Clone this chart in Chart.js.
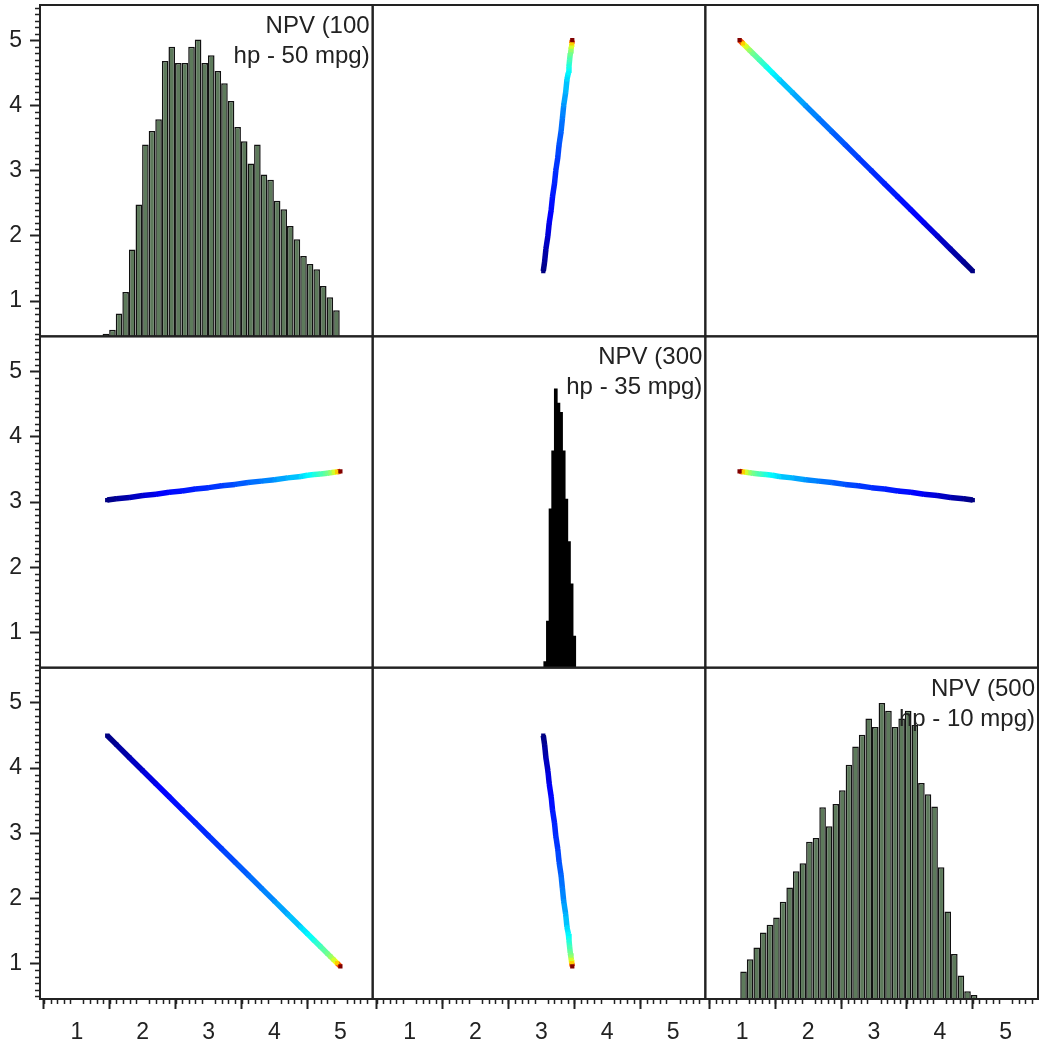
<!DOCTYPE html>
<html>
<head>
<meta charset="utf-8">
<script src="https://cdn.jsdelivr.net/npm/chart.js@4.4.0/dist/chart.umd.min.js"></script>
<style>
  html, body { margin: 0; padding: 0; background: #fff; }
  #wrap { width: 1042px; height: 1047px; position: relative; }
</style>
</head>
<body>
<div id="wrap"><canvas id="matrix"></canvas></div>
<script>
// variable names (shown on the diagonal, two lines each)
const varLabels = [
  ['NPV (100', 'hp - 50 mpg)'],
  ['NPV (300', 'hp - 35 mpg)'],
  ['NPV (500', 'hp - 10 mpg)'],
];
const tickValues = [1, 2, 3, 4, 5];

const npv100 = [1.46, 1.6, 1.8, 2.0, 2.2, 2.4, 2.6, 2.8, 3.0, 3.2, 3.4, 3.6, 3.8, 4.0, 4.2, 4.4, 4.5, 4.6, 4.7, 4.8, 4.85, 4.9, 4.95, 5.0];
const npv300 = [3.03, 3.05, 3.07, 3.10, 3.12, 3.15, 3.17, 3.20, 3.22, 3.25, 3.27, 3.30, 3.32, 3.34, 3.37, 3.39, 3.41, 3.42, 3.43, 3.44, 3.45, 3.455, 3.462, 3.47];
const npv500 = [4.50, 4.36, 4.16, 3.96, 3.76, 3.56, 3.36, 3.16, 2.96, 2.76, 2.56, 2.36, 2.16, 1.96, 1.76, 1.56, 1.46, 1.36, 1.26, 1.16, 1.11, 1.06, 1.01, 0.96];

// diagonal histograms: bin centres and bar heights (in axis units)
const hist100Bins = [1.44, 1.54, 1.64, 1.74, 1.84, 1.94, 2.04, 2.14, 2.24, 2.34, 2.44, 2.54, 2.64, 2.74, 2.84, 2.94, 3.04, 3.14, 3.24, 3.34, 3.44, 3.54, 3.64, 3.74, 3.84, 3.94, 4.04, 4.14, 4.24, 4.34, 4.44, 4.54, 4.64, 4.74, 4.84, 4.94];
const hist100 = [0.50, 0.56, 0.81, 1.14, 1.79, 2.48, 3.40, 3.61, 3.79, 4.68, 4.90, 4.65, 4.65, 4.90, 5.01, 4.65, 4.77, 4.53, 4.34, 4.07, 3.67, 3.45, 3.11, 3.40, 2.94, 2.86, 2.54, 2.41, 2.15, 1.95, 1.69, 1.57, 1.49, 1.23, 1.06, 0.86];

const hist300Bins = [3.06, 3.10, 3.14, 3.18, 3.22, 3.26, 3.30, 3.34, 3.38, 3.42, 3.46, 3.50];
const hist300 = [0.56, 1.18, 2.90, 3.79, 4.74, 4.52, 4.38, 3.79, 3.05, 2.40, 1.75, 0.95];

const hist500Bins = [1.02, 1.12, 1.22, 1.32, 1.42, 1.52, 1.62, 1.72, 1.82, 1.92, 2.02, 2.12, 2.22, 2.32, 2.42, 2.52, 2.62, 2.72, 2.82, 2.92, 3.02, 3.12, 3.22, 3.32, 3.42, 3.52, 3.62, 3.72, 3.82, 3.92, 4.02, 4.12, 4.22, 4.32, 4.42, 4.52];
const hist500 = [0.88, 1.07, 1.25, 1.48, 1.60, 1.71, 1.95, 2.17, 2.42, 2.54, 2.87, 2.93, 3.40, 3.11, 3.45, 3.66, 4.05, 4.33, 4.51, 4.76, 4.63, 5.00, 4.88, 4.63, 4.76, 4.88, 4.66, 3.77, 3.60, 3.41, 2.48, 1.80, 1.15, 0.82, 0.58, 0.52];

// ---- styling ----
const X_MIN = 0.44, X_MAX = 5.49;
const Y_MIN = 0.46, Y_MAX = 5.54;
const INK = '#222';
const FONT = "'Liberation Sans', Arial, sans-serif";

const vars = [npv100, npv300, npv500];
const hists = [
  { bins: hist100Bins, heights: hist100, fill: '#5d7a5b', border: '#111', width: 1.5, pct: 1 },
  { bins: hist300Bins, heights: hist300, fill: '#000', border: '#000', width: 0, pct: 1.4 },
  { bins: hist500Bins, heights: hist500, fill: '#5d7a5b', border: '#111', width: 1.5, pct: 1 },
];

// colour of a point follows NPV (100 hp), on a jet ramp that is stretched at the top
const colourStops = [
  [1.45, 0], [2.3, 0.125], [3.2, 0.184], [3.87, 0.252], [4.33, 0.32],
  [4.53, 0.375], [4.83, 0.5], [4.94, 0.625], [4.99, 0.875], [5.0, 1],
];

function clamp(v) { return Math.max(0, Math.min(1, v)); }

function jet(t) {
  const r = clamp(Math.min(4 * t - 1.5, -4 * t + 4.5));
  const g = clamp(Math.min(4 * t - 0.5, -4 * t + 3.5));
  const b = clamp(Math.min(4 * t + 0.5, -4 * t + 2.5));
  return `rgb(${Math.round(r * 255)}, ${Math.round(g * 255)}, ${Math.round(b * 255)})`;
}

function colourFor(v) {
  if (v <= colourStops[0][0]) return jet(0);
  for (let i = 1; i < colourStops.length; i++) {
    const [v1, t1] = colourStops[i];
    const [v0, t0] = colourStops[i - 1];
    if (v <= v1) return jet(t0 + (t1 - t0) * (v - v0) / (v1 - v0));
  }
  return jet(1);
}

// axes keep their exact size: no automatic label padding around the grid
function fixSize(s, w, h) {
  if (w) s.width = w;
  if (h) s.height = h;
  s.paddingTop = 0; s.paddingBottom = 0; s.paddingLeft = 0; s.paddingRight = 0;
}

function xAxis() {
  return {
    type: 'linear', position: 'bottom', stack: 'cols', stackWeight: 1,
    min: X_MIN, max: X_MAX, offset: false,
    afterFit: (s) => fixSize(s, 0, 48),
    afterBuildTicks: (s) => { s.ticks = tickValues.map(v => ({ value: v })); },
    grid: { drawOnChartArea: false, drawTicks: true, tickLength: 10, tickWidth: 2, tickColor: INK },
    border: { display: false },
    ticks: { color: INK, font: { family: FONT, size: 23 }, padding: 10, maxRotation: 0, autoSkip: false },
  };
}

function yAxis(row) {
  return {
    type: 'linear', position: 'left', stack: 'rows', stackWeight: 1,
    weight: 3 - row, // top row first
    min: Y_MIN, max: Y_MAX, offset: false,
    afterFit: (s) => fixSize(s, 40, 0),
    afterBuildTicks: (s) => { s.ticks = tickValues.map(v => ({ value: v })); },
    grid: { drawOnChartArea: false, drawTicks: true, tickLength: 10, tickWidth: 2, tickColor: INK },
    border: { display: false },
    ticks: { color: INK, font: { family: FONT, size: 23 }, padding: 8, autoSkip: false },
  };
}

const scales = {};
for (let i = 0; i < 3; i++) {
  scales['x' + i] = xAxis();
}
for (let i = 0; i < 3; i++) {
  scales['y' + i] = yAxis(i);
}

const datasets = [];
for (let r = 0; r < 3; r++) {
  for (let c = 0; c < 3; c++) {
    if (r === c) {
      const h = hists[r];
      datasets.push({
        type: 'bar',
        xAxisID: 'x' + c, yAxisID: 'y' + r,
        data: h.bins.map((b, i) => ({ x: b, y: h.heights[i] })),
        backgroundColor: h.fill,
        borderColor: h.border,
        borderWidth: h.width,
        inflateAmount: 0,
        grouped: false,
        barPercentage: h.pct,
        categoryPercentage: 1,
      });
    } else {
      datasets.push({
        type: 'scatter',
        xAxisID: 'x' + c, yAxisID: 'y' + r,
        data: npv100.map((_, i) => ({ x: vars[c][i], y: vars[r][i] })),
        showLine: true,
        borderWidth: 5.5,
        borderJoinStyle: 'bevel',
        segment: {
          borderColor: (ctx) => colourFor((npv100[ctx.p0DataIndex] + npv100[ctx.p1DataIndex]) / 2),
        },
        pointStyle: 'rect',
        pointRadius: 3,
        pointBorderWidth: 0,
        pointBackgroundColor: (ctx) => colourFor(npv100[ctx.dataIndex]),
      });
    }
  }
}

// cell frames, minor ticks and the diagonal labels
const matrixFrame = {
  id: 'matrixFrame',
  afterDatasetsDraw(chart) {
    const ctx = chart.ctx;
    ctx.save();
    ctx.fillStyle = INK;
    ctx.font = `24px ${FONT}`;
    ctx.textAlign = 'right';
    ctx.textBaseline = 'alphabetic';
    for (let i = 0; i < 3; i++) {
      const xs = chart.scales['x' + i], ys = chart.scales['y' + i];
      ctx.fillText(varLabels[i][0], xs.right - 3, ys.top + 28);
      ctx.fillText(varLabels[i][1], xs.right - 3, ys.top + 58);
    }
    ctx.restore();
  },
  afterDraw(chart) {
    const ctx = chart.ctx;
    ctx.save();
    ctx.strokeStyle = INK;
    ctx.lineWidth = 2;
    for (let r = 0; r < 3; r++) {
      for (let c = 0; c < 3; c++) {
        const xs = chart.scales['x' + c], ys = chart.scales['y' + r];
        ctx.strokeRect(xs.left, ys.top, xs.right - xs.left, ys.bottom - ys.top);
      }
    }
    ctx.lineWidth = 1.5;
    ctx.beginPath();
    for (let i = 0; i < 3; i++) {
      const xs = chart.scales['x' + i], ys = chart.scales['y' + i];
      for (let k = 4; k <= 56; k++) {
        if (k % 10 === 0) continue;
        const v = k / 10;
        if (v > X_MIN && v < X_MAX) {
          const px = Math.round(xs.getPixelForValue(v)) + 0.5;
          ctx.moveTo(px, xs.top);
          ctx.lineTo(px, xs.top + 5);
        }
        if (v > Y_MIN && v < Y_MAX) {
          const py = Math.round(ys.getPixelForValue(v)) + 0.5;
          ctx.moveTo(ys.right - 5, py);
          ctx.lineTo(ys.right, py);
        }
      }
    }
    ctx.stroke();
    ctx.restore();
  },
};

new Chart(document.getElementById('matrix'), {
  type: 'scatter',
  data: { datasets },
  options: {
    responsive: true,
    maintainAspectRatio: false,
    animation: false,
    layout: { padding: { top: 5, right: 2, left: 0, bottom: 0 } },
    scales,
    plugins: {
      legend: { display: false },
      tooltip: { enabled: false },
    },
  },
  plugins: [matrixFrame],
});
</script>
</body>
</html>
